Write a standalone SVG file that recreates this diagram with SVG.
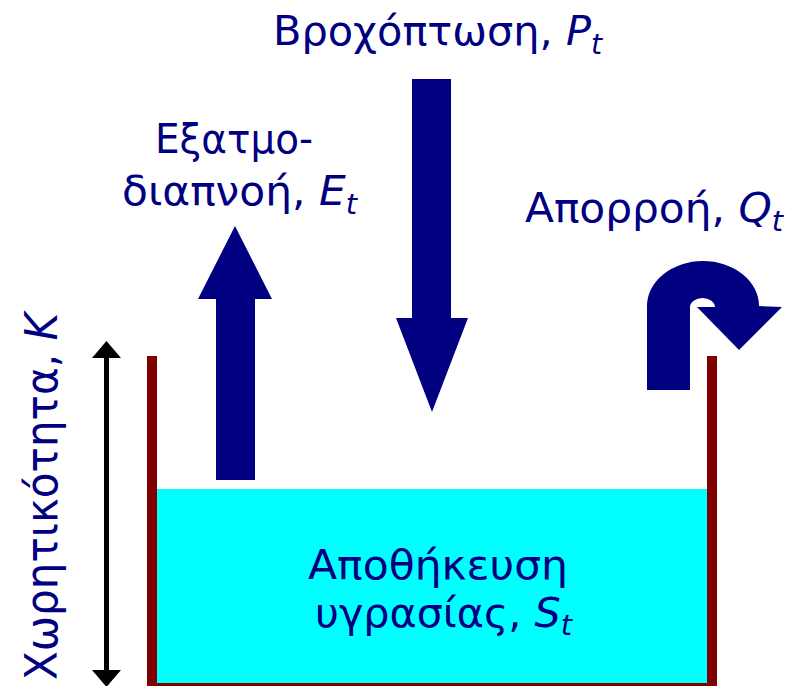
<svg xmlns="http://www.w3.org/2000/svg" width="799" height="686" viewBox="0 0 799 686">
<style>
.lbl{font-family:"DejaVu Sans","Liberation Sans",sans-serif;font-size:41px;fill:#000080}
.big{font-size:40px}
.it{font-style:italic}
.sub{font-style:italic;font-size:28px}
.flow{fill:#000080}
.wall{fill:#800000}
</style>
<rect width="799" height="686" fill="#ffffff"/>
<g id="storage">
<rect x="157" y="489" width="550" height="195" fill="#00ffff"/>
<text class="lbl big" x="308" y="579" textLength="260" lengthAdjust="spacingAndGlyphs">Αποθήκευση</text>
<text class="lbl big" x="315" y="627" textLength="257" lengthAdjust="spacingAndGlyphs">υγρασίας, <tspan class="it">S</tspan><tspan class="sub" dy="8">t</tspan></text>
</g>
<g id="bucket">
<rect class="wall" x="147" y="356" width="10" height="330"/>
<rect class="wall" x="707" y="356" width="10" height="330"/>
<rect class="wall" x="147" y="683" width="570" height="3"/>
</g>
<g id="capacity">
<rect x="104" y="355" width="5" height="318" fill="#000"/>
<polygon points="106.5,341 92,358 121,358" fill="#000"/>
<polygon points="106.5,687 92,670 121,670" fill="#000"/>
<text class="lbl" transform="translate(57,496.5) rotate(-90)" x="0" y="0" text-anchor="middle" textLength="367" lengthAdjust="spacingAndGlyphs" style="font-size:45px">Χωρητικότητα, <tspan class="it">K</tspan></text>
</g>
<g id="connectors">
<polygon class="flow" points="216,480 216,299 198,299 235,226 272,299 255,299 255,480"/>
<polygon class="flow" points="412,79 451,79 451,318 468,318 432,412 396,318 412,318"/>
<path class="flow" d="M647,390 L647,306 A56,45 0 0 1 759,306 L782,307 L739,350 L697,307 L715,307 A12.5,9 0 0 0 690,307 L690,390 Z"/>
</g>
<g id="precip">
<text class="lbl" x="273" y="45" textLength="329" lengthAdjust="spacingAndGlyphs">Βροχόπτωση, <tspan class="it">P</tspan><tspan class="sub" dy="9">t</tspan></text>
</g>
<g id="evap">
<text class="lbl" x="155" y="153" textLength="158" lengthAdjust="spacingAndGlyphs">Εξατμο-</text>
<text class="lbl" x="122" y="205" textLength="235" lengthAdjust="spacingAndGlyphs">διαπνοή, <tspan class="it">E</tspan><tspan class="sub" dy="9">t</tspan></text>
</g>
<g id="runoff">
<text class="lbl" x="525" y="222" textLength="258" lengthAdjust="spacingAndGlyphs">Απορροή, <tspan class="it">Q</tspan><tspan class="sub" dy="9">t</tspan></text>
</g>
</svg>
